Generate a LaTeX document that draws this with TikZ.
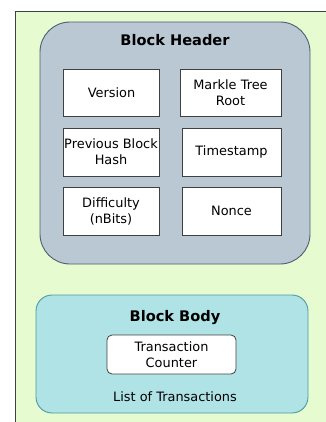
\documentclass[tikz,border=0pt]{standalone}
\usepackage{fontspec}
\setmainfont{DejaVu Sans}
\begin{document}
\begin{tikzpicture}[x=1pt,y=-1pt,
  field/.style={draw=black!75, line width=0.8pt, fill=white, align=center,
    font=\fontsize{12.9}{16}\selectfont, inner sep=0pt},
  title/.style={font=\fontsize{14.6}{17}\selectfont\bfseries}]
\definecolor{bgGreen}{HTML}{E6FBD0}
\definecolor{hdrFill}{HTML}{BAC8D4}
\definecolor{hdrEdge}{HTML}{4E5E6E}
\definecolor{bodyFill}{HTML}{B0E3E6}
\definecolor{bodyEdge}{HTML}{4A9CA2}
\useasboundingbox (0,0) rectangle (325,422);
% page background and block frame
\fill[white] (0,0) rectangle (325,422);
\fill[bgGreen] (15,11) rectangle (330,430);
\draw[black!75, line width=0.9pt] (15,430) -- (15,11) -- (330,11);
% block header
\draw[hdrEdge, fill=hdrFill, line width=0.9pt, rounded corners=30pt]
  (40,22) rectangle (310,264);
\node[title] (hdr) at (175,40) {Block Header};
\node[field, minimum width=96pt, minimum height=47pt] (ver) at (111.5,92.5) {Version};
\node[field, minimum width=101pt, minimum height=47pt] (mrk) at (230.5,92.5) {Markle Tree\\Root};
\node[field, minimum width=96pt, minimum height=48pt] (prv) at (111,152) {Previous Block\\Hash};
\node[field, minimum width=99pt, minimum height=48pt] (tms) at (231.5,152) {Timestamp};
\node[field, minimum width=96pt, minimum height=48pt] (dif) at (111,211) {Difficulty\\(nBits)};
\node[field, minimum width=99pt, minimum height=48pt] (non) at (231.5,211) {Nonce};
% block body
\draw[bodyEdge, fill=bodyFill, line width=0.9pt, rounded corners=16pt]
  (36,295) rectangle (308,413);
\node[title] (body) at (175,318) {Block Body};
\node[field, rounded corners=5pt, minimum width=129pt, minimum height=39pt] (cnt) at (171.5,354.5) {Transaction\\Counter};
\node[font=\fontsize{12.9}{16}\selectfont] (lst) at (175,397) {List of Transactions};
\end{tikzpicture}
\end{document}
